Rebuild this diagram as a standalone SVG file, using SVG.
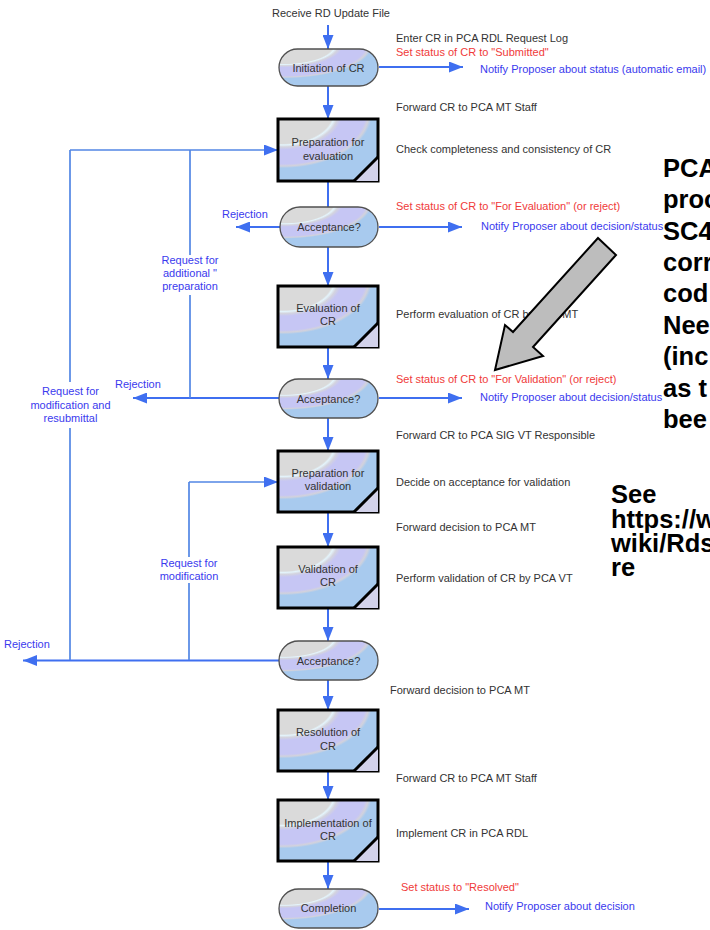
<svg xmlns="http://www.w3.org/2000/svg" width="710" height="930" viewBox="0 0 710 930">
  <style>
    text { font-family: "Liberation Sans", Arial, sans-serif; font-size: 11px; }
    .lbl { fill: #333333; text-anchor: middle; }
    .note { fill: #333333; }
    .red { fill: #f03a3a; }
    .blue { fill: #3a3aee; }
    .fb { fill: #3a3aee; text-anchor: middle; }
    .big { font-size: 25.5px; font-weight: bold; fill: #000000; }
    .pill { fill: url(#sheen); stroke: #505050; stroke-width: 1.3; }
    .box { fill: url(#sheen); stroke: #000000; stroke-width: 3; }
    .fold { fill: #d2d2ea; stroke: none; }
    .foldline { stroke: #000000; stroke-width: 3; fill: none; }
    .flow { fill: none; stroke: #3f6ff0; stroke-width: 2; }
    .loop { fill: none; stroke: #5286e4; stroke-width: 1.7; }
  </style>
  <defs>
    <radialGradient id="sheen" cx="0.05" cy="-0.1" r="1.1" fx="0.05" fy="-0.1">
      <stop offset="0" stop-color="#dadada"/>
      <stop offset="0.45" stop-color="#dadada"/>
      <stop offset="0.47" stop-color="#e4f4fb"/>
      <stop offset="0.50" stop-color="#d4d4de"/>
      <stop offset="0.54" stop-color="#c6c6f4"/>
      <stop offset="0.75" stop-color="#c6c6f4"/>
      <stop offset="0.78" stop-color="#d2d2dc"/>
      <stop offset="0.81" stop-color="#a8caee"/>
      <stop offset="1" stop-color="#a8caee"/>
    </radialGradient>
    <marker id="ah" markerUnits="userSpaceOnUse" markerWidth="14" markerHeight="11" refX="14" refY="5.5" orient="auto">
      <path d="M0,0 L14,5.5 L0,11 z" fill="#3f6ff0"/>
    </marker>
  </defs>

  <rect width="710" height="930" fill="#ffffff"/>

  <!-- connectors -->
  <g id="connectors">
    <path class="flow" d="M328,25 V49" marker-end="url(#ah)"/>
    <path class="flow" d="M328,86 V119" marker-end="url(#ah)"/>
    <path class="flow" d="M328,181 V207"/>
    <path class="flow" d="M328,247 V286" marker-end="url(#ah)"/>
    <path class="flow" d="M328,347 V379" marker-end="url(#ah)"/>
    <path class="flow" d="M328,418 V451" marker-end="url(#ah)"/>
    <path class="flow" d="M328,512 V547" marker-end="url(#ah)"/>
    <path class="flow" d="M328,608 V641" marker-end="url(#ah)"/>
    <path class="flow" d="M328,680 V710" marker-end="url(#ah)"/>
    <path class="flow" d="M328,771 V800" marker-end="url(#ah)"/>
    <path class="flow" d="M328,861 V889" marker-end="url(#ah)"/>

    <path class="flow" d="M379,67 H463" marker-end="url(#ah)"/>
    <path class="flow" d="M379,227 H462" marker-end="url(#ah)"/>
    <path class="flow" d="M379,398 H462" marker-end="url(#ah)"/>
    <path class="flow" d="M379,909 H469" marker-end="url(#ah)"/>

    <path class="flow" d="M280,227 H236" marker-end="url(#ah)"/>
    <path class="flow" d="M279,398 H133" marker-end="url(#ah)"/>
    <path class="flow" d="M279,660.5 H23" marker-end="url(#ah)"/>

    <path class="loop" d="M70,150 H278" marker-end="url(#ah)"/>
    <path class="loop" d="M70,150 V382"/>
    <path class="loop" d="M70,428 V660"/>
    <path class="loop" d="M190,150 V255"/>
    <path class="loop" d="M190,295 V398"/>
    <path class="loop" d="M189,482 H278" marker-end="url(#ah)"/>
    <path class="loop" d="M189,482 V557"/>
    <path class="loop" d="M189,583 V660"/>
  </g>

  <!-- process steps -->
  <g id="initiation">
    <rect class="pill" x="279" y="49" width="99" height="37" rx="18.5"/>
    <text class="lbl" x="328.5" y="71.5">Initiation of CR</text>
  </g>
  <g id="prep-evaluation">
    <rect class="box" x="278" y="119" width="100" height="62"/>
    <path class="fold" d="M354,181 L378,157 V181 z"/>
    <path class="foldline" d="M354,181 L378,157"/>
    <text class="lbl" x="328" y="146">Preparation for</text>
    <text class="lbl" x="328" y="159.5">evaluation</text>
  </g>
  <g id="acceptance-1">
    <rect class="pill" x="280" y="207" width="98" height="40" rx="20"/>
    <text class="lbl" x="329" y="231">Acceptance?</text>
  </g>
  <g id="evaluation">
    <rect class="box" x="278" y="286" width="100" height="61"/>
    <path class="fold" d="M354,347 L378,323 V347 z"/>
    <path class="foldline" d="M354,347 L378,323"/>
    <text class="lbl" x="328" y="312">Evaluation of</text>
    <text class="lbl" x="328" y="325">CR</text>
  </g>
  <g id="acceptance-2">
    <rect class="pill" x="279" y="379" width="99" height="39" rx="19.5"/>
    <text class="lbl" x="328.5" y="402.5">Acceptance?</text>
  </g>
  <g id="prep-validation">
    <rect class="box" x="278" y="451" width="100" height="61"/>
    <path class="fold" d="M354,512 L378,488 V512 z"/>
    <path class="foldline" d="M354,512 L378,488"/>
    <text class="lbl" x="328" y="477">Preparation for</text>
    <text class="lbl" x="328" y="490">validation</text>
  </g>
  <g id="validation">
    <rect class="box" x="278" y="547" width="100" height="61"/>
    <path class="fold" d="M354,608 L378,584 V608 z"/>
    <path class="foldline" d="M354,608 L378,584"/>
    <text class="lbl" x="328" y="573">Validation of</text>
    <text class="lbl" x="328" y="586">CR</text>
  </g>
  <g id="acceptance-3">
    <rect class="pill" x="279" y="641" width="99" height="39" rx="19.5"/>
    <text class="lbl" x="328.5" y="664.5">Acceptance?</text>
  </g>
  <g id="resolution">
    <rect class="box" x="278" y="710" width="100" height="61"/>
    <path class="fold" d="M354,771 L378,747 V771 z"/>
    <path class="foldline" d="M354,771 L378,747"/>
    <text class="lbl" x="328" y="736">Resolution of</text>
    <text class="lbl" x="328" y="749.5">CR</text>
  </g>
  <g id="implementation">
    <rect class="box" x="278" y="800" width="100" height="61"/>
    <path class="fold" d="M354,861 L378,837 V861 z"/>
    <path class="foldline" d="M354,861 L378,837"/>
    <text class="lbl" x="328" y="826.5">Implementation of</text>
    <text class="lbl" x="328" y="839.5">CR</text>
  </g>
  <g id="completion">
    <rect class="pill" x="279" y="889" width="99" height="39" rx="19.5"/>
    <text class="lbl" x="328.5" y="912">Completion</text>
  </g>

  <!-- step annotations -->
  <g id="annotations">
    <text class="note" x="272" y="17">Receive RD Update File</text>
    <text class="note" x="396" y="42">Enter CR in PCA RDL Request Log</text>
    <text class="red" x="396" y="56">Set status of CR to "Submitted"</text>
    <text class="blue" x="480" y="72.5">Notify Proposer about status (automatic email)</text>
    <text class="note" x="396" y="110.5">Forward CR to PCA MT Staff</text>
    <text class="note" x="396" y="152.5">Check completeness and consistency of CR</text>
    <text class="red" x="396" y="210">Set status of CR to "For Evaluation" (or reject)</text>
    <text class="blue" x="481" y="229.5">Notify Proposer about decision/status</text>
    <text class="note" x="396" y="318">Perform evaluation of CR by PCA MT</text>
    <text class="red" x="396" y="383">Set status of CR to "For Validation" (or reject)</text>
    <text class="blue" x="480" y="401">Notify Proposer about decision/status</text>
    <text class="note" x="396" y="439">Forward CR to PCA SIG VT Responsible</text>
    <text class="note" x="396" y="486">Decide on acceptance for validation</text>
    <text class="note" x="396" y="531">Forward decision to PCA MT</text>
    <text class="note" x="396" y="582">Perform validation of CR by PCA VT</text>
    <text class="note" x="390" y="694">Forward decision to PCA MT</text>
    <text class="note" x="396" y="782">Forward CR to PCA MT Staff</text>
    <text class="note" x="396" y="837">Implement CR in PCA RDL</text>
    <text class="red" x="401" y="891">Set status to "Resolved"</text>
    <text class="blue" x="485" y="910">Notify Proposer about decision</text>
  </g>

  <!-- feedback labels -->
  <g id="feedback-labels">
    <text class="blue" x="222" y="218">Rejection</text>
    <text class="fb" x="190" y="263.5">Request for</text>
    <text class="fb" x="190" y="277">additional "</text>
    <text class="fb" x="190" y="290">preparation</text>
    <text class="blue" x="115" y="387.5">Rejection</text>
    <text class="fb" x="70.5" y="395">Request for</text>
    <text class="fb" x="70.5" y="408.5">modification and</text>
    <text class="fb" x="70.5" y="421.5">resubmittal</text>
    <text class="fb" x="189" y="567">Request for</text>
    <text class="fb" x="189" y="580">modification</text>
    <text class="blue" x="4" y="648">Rejection</text>
  </g>

  <!-- callout arrow -->
  <g id="callout-arrow">
    <polygon points="598,238 616,255 533,347 543,356 495,370 505,325 513,332" fill="#bdbdbd" stroke="#000000" stroke-width="2" stroke-linejoin="miter"/>
  </g>

  <!-- side notes -->
  <g id="side-note">
    <text class="big" x="663" y="177">PCA</text>
    <text class="big" x="663" y="208">proc</text>
    <text class="big" x="663" y="240">SC4</text>
    <text class="big" x="663" y="271">corr</text>
    <text class="big" x="663" y="302">cod</text>
    <text class="big" x="663" y="334">Nee</text>
    <text class="big" x="663" y="365">(inc</text>
    <text class="big" x="663" y="397">as t</text>
    <text class="big" x="663" y="428">bee</text>
  </g>
  <g id="see-note">
    <text class="big" x="611" y="503">See</text>
    <text class="big" x="611" y="528">https://w</text>
    <text class="big" x="611" y="552">wiki/Rds</text>
    <text class="big" x="611" y="576">re</text>
  </g>
</svg>
